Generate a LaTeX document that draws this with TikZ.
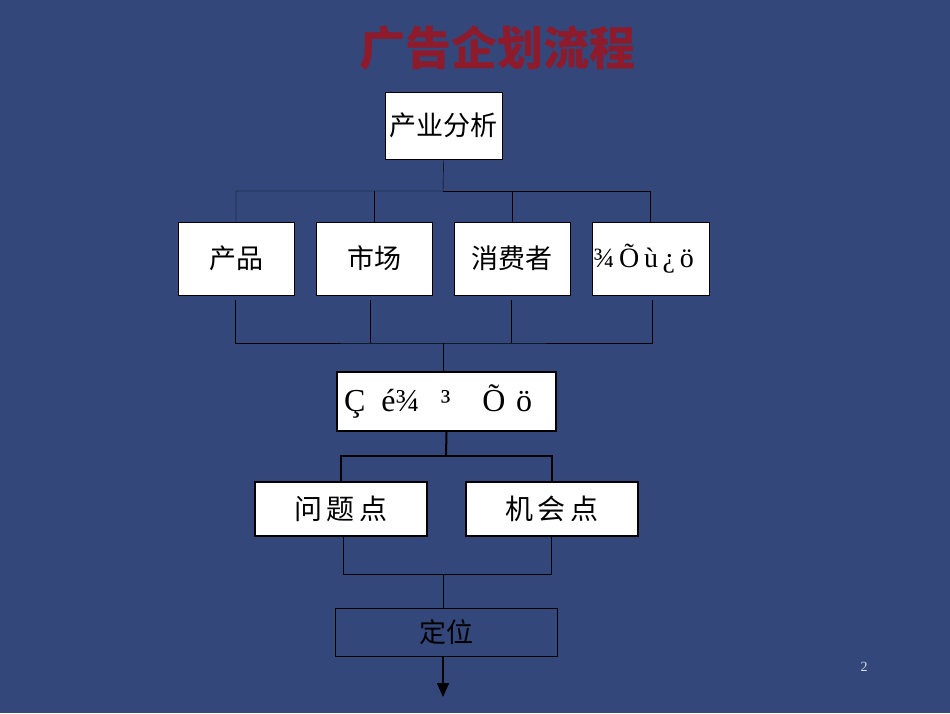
\documentclass[tikz,border=0pt]{standalone}
\usepackage{fontspec}
\setmainfont{Liberation Serif}
\newfontfamily\cjk{Noto Sans CJK SC}
\usetikzlibrary{calc,arrows.meta}
\definecolor{slide_blue}{HTML}{33477A}
\definecolor{title_red}{HTML}{8E1B2C}

\begin{document}
\begin{tikzpicture}[x=1pt, y=-1pt,
	box/.style={draw=black, fill=white, minimum height=#1, inner sep=0pt, font=\cjk\fontsize{27}{30}\selectfont},
	box/.default=67pt,
	link/.style={draw=black, thin},
	boldlink/.style={draw=black, line width=2pt}]
	\fill[slide_blue] (0, 0) rectangle (950, 713);
	\node[title_red, font=\cjk\bfseries\fontsize{46}{50}\selectfont] (title) at (497, 48) {广告企划流程};
	\node[box, minimum width=117pt] (ind) at (443.5, 125.5) {产业分析};
	\node[box=73pt, minimum width=116pt] (prod) at (236, 258.5) {产品};
	\node[box=73pt, minimum width=116pt] (mkt) at (374, 258.5) {市场};
	\node[box=73pt, minimum width=116pt] (cons) at (512, 258.5) {消费者};
	\node[box=73pt, minimum width=117pt, font=\fontsize{28}{30}\selectfont, text width=114pt, align=left] (comp) at (650.5, 258.5) {¾\,Õ\,ù\,¿\,ö};
	\node[box=59pt, minimum width=219pt, line width=2pt, font=\fontsize{32}{34}\selectfont, text width=205pt, align=left] (swot) at (446.5, 401.5) {Ç\, é¾\ \ ³\ \ \ Õ\ ö};
	\node[box=54pt, minimum width=172pt, line width=2pt, font=\cjk\fontsize{28}{30}\selectfont] (prob) at (341, 509) {问\,题\,点};
	\node[box=54pt, minimum width=172pt, line width=2pt, font=\cjk\fontsize{28}{30}\selectfont] (chance) at (552, 509) {机\,会\,点};
	\node[box=48pt, minimum width=222pt, fill=slide_blue, font=\cjk\fontsize{27}{30}\selectfont] (pos) at (446, 632) {定位};
	\node[white!80!slide_blue, font=\fontsize{14}{15}\selectfont] (page) at (864, 667) {2};
	% upper tree
	\draw[link] (ind.south) -- (443, 191) -| (prod.north);
	\draw[link] (443, 191) -| (comp.north);
	\draw[link] (mkt.north) -- (374, 191);
	\draw[link] (cons.north) -- (512, 191);
	% merge into middle box
	\draw[link] (235, 300) |- (443, 343) -| (652, 300);
	\draw[link] (370, 300) -- (370, 343);
	\draw[link] (511, 300) -- (511, 343);
	\draw[link] (443, 343) -- (swot.north -| 443, 0);
	\draw[boldlink] (swot.south) -- (446, 456);
	\draw[boldlink] (prob.north) |- (446, 456) -| (chance.north);
	\draw[link] (343, 536) |- (443, 574) -| (551, 536);
	\draw[link] (443, 574) -- (pos.north -| 443, 0);
	\draw[black, line width=1.5pt, -{Triangle[length=14pt, width=12pt]}] (pos.south -| 443, 0) -- (443, 697);
\end{tikzpicture}
\end{document}
